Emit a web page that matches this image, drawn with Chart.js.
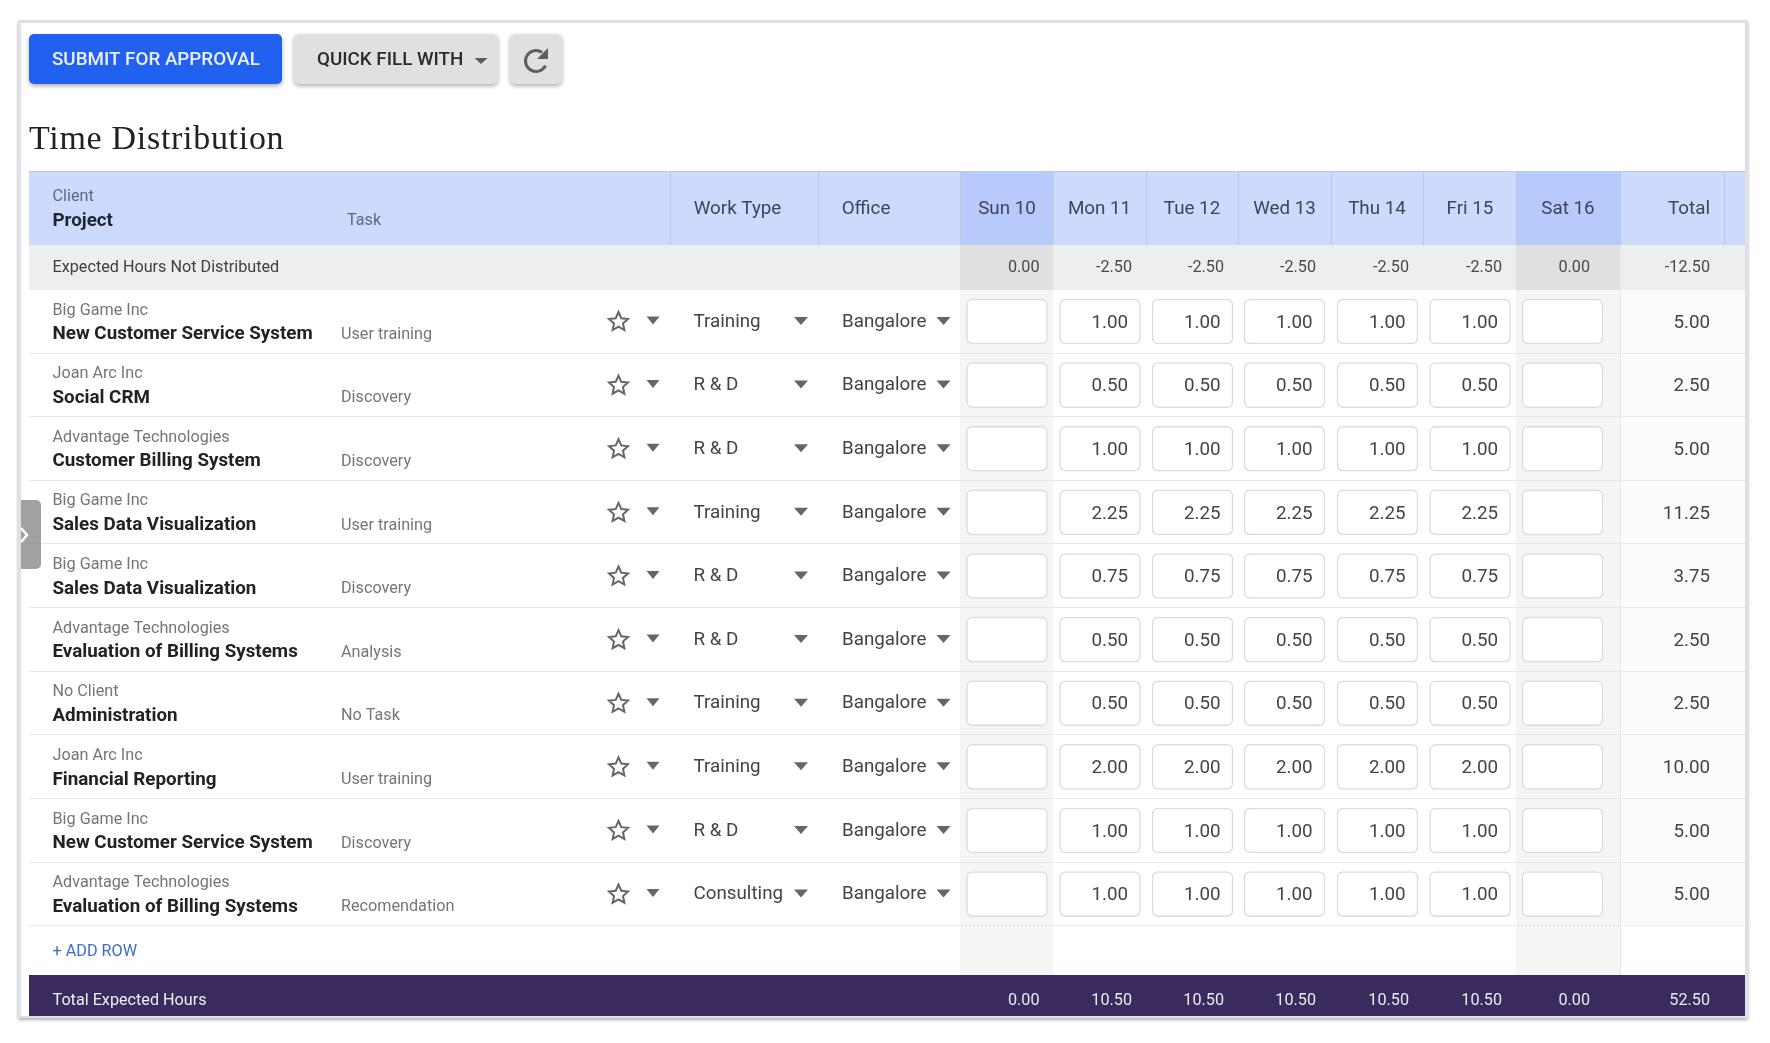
<!DOCTYPE html>
<html lang="en">
<head>
<meta charset="utf-8">
<title>Time Distribution</title>
<style>html,body{margin:0;padding:0;background:#fff}canvas{display:block;filter:blur(.45px)}</style>
<script src="https://cdn.jsdelivr.net/npm/chart.js@4"></script>
</head>
<body>
<canvas id="c" width="1770" height="1043"></canvas>
<script>
// ---------- DATA ----------
const titleText = 'Time Distribution';
const submitLabel = 'SUBMIT FOR APPROVAL';
const quickFillLabel = 'QUICK FILL WITH';
const addRowLabel = '+ ADD ROW';
const headerClient = 'Client';
const headerProject = 'Project';
const headerTask = 'Task';
const expectedLabel = 'Expected Hours Not Distributed';
const footerLabel = 'Total Expected Hours';
const headerColumns = ['Work Type', 'Office', 'Sun 10', 'Mon 11', 'Tue 12', 'Wed 13', 'Thu 14', 'Fri 15', 'Sat 16', 'Total'];
const days = ['Sun 10', 'Mon 11', 'Tue 12', 'Wed 13', 'Thu 14', 'Fri 15', 'Sat 16'];
const clients = ['Big Game Inc', 'Joan Arc Inc', 'Advantage Technologies', 'Big Game Inc', 'Big Game Inc', 'Advantage Technologies', 'No Client', 'Joan Arc Inc', 'Big Game Inc', 'Advantage Technologies'];
const projects = ['New Customer Service System', 'Social CRM', 'Customer Billing System', 'Sales Data Visualization', 'Sales Data Visualization', 'Evaluation of Billing Systems', 'Administration', 'Financial Reporting', 'New Customer Service System', 'Evaluation of Billing Systems'];
const tasks = ['User training', 'Discovery', 'Discovery', 'User training', 'Discovery', 'Analysis', 'No Task', 'User training', 'Discovery', 'Recomendation'];
const workTypes = ['Training', 'R & D', 'R & D', 'Training', 'R & D', 'R & D', 'Training', 'Training', 'R & D', 'Consulting'];
const offices = ['Bangalore', 'Bangalore', 'Bangalore', 'Bangalore', 'Bangalore', 'Bangalore', 'Bangalore', 'Bangalore', 'Bangalore', 'Bangalore'];
const sunHours = ['', '', '', '', '', '', '', '', '', ''];
const monHours = ['1.00', '0.50', '1.00', '2.25', '0.75', '0.50', '0.50', '2.00', '1.00', '1.00'];
const tueHours = ['1.00', '0.50', '1.00', '2.25', '0.75', '0.50', '0.50', '2.00', '1.00', '1.00'];
const wedHours = ['1.00', '0.50', '1.00', '2.25', '0.75', '0.50', '0.50', '2.00', '1.00', '1.00'];
const thuHours = ['1.00', '0.50', '1.00', '2.25', '0.75', '0.50', '0.50', '2.00', '1.00', '1.00'];
const friHours = ['1.00', '0.50', '1.00', '2.25', '0.75', '0.50', '0.50', '2.00', '1.00', '1.00'];
const satHours = ['', '', '', '', '', '', '', '', '', ''];
const rowTotals = ['5.00', '2.50', '5.00', '11.25', '3.75', '2.50', '2.50', '10.00', '5.00', '5.00'];
const expectedByDay = ['0.00', '-2.50', '-2.50', '-2.50', '-2.50', '-2.50', '0.00', '-12.50'];
const footerByDay = ['0.00', '10.50', '10.50', '10.50', '10.50', '10.50', '0.00', '52.50'];

// ---------- LAYOUT (pixels of the 1770x1043 page) ----------
const L = {
  tableLeft: 29, tableRight: 1745, headTop: 171, headBottom: 245, rowsTop: 290, rowH: 63.62, dotted: 925, footTop: 975, footBottom: 1016,
  headCenters: [737.5, 866, 1007, 1099.5, 1192, 1284.5, 1377, 1470, 1568, 1689],
  cellCenters: [1007, 1100, 1192.5, 1284.5, 1377.5, 1470, 1562.5],
  headLines: [670, 818, 960, 1053, 1146, 1238, 1331, 1423, 1516, 1620, 1724],
  sun: [960, 1053], sat: [1516, 1620],
  valueRights: [1039.5, 1132, 1224, 1316, 1409, 1502, 1590, 1710]
};
const FONT = 'Roboto, sans-serif';
const hoursByDay = [sunHours, monHours, tueHours, wedHours, thuHours, friHours, satHours];

// A category scale whose bands are not equally wide: a real table column grid.
class TableColumnScale extends Chart.CategoryScale {
  getPixelForValue(value) {
    const v = typeof value === 'number' ? value : this.parse(value);
    const c = this.options.centers;
    return c[Math.round(v)];
  }
  getPixelForTick(i) { return this.options.centers[this.ticks[i].value]; }
}
TableColumnScale.id = 'tableColumn';
TableColumnScale.defaults = Chart.CategoryScale.defaults;
Chart.register(TableColumnScale);

function rr(ctx, x, y, w, h, r) { ctx.beginPath(); ctx.roundRect(x, y, w, h, r); }
function txt(ctx, s, x, y, font, color, align) {
  ctx.font = font; ctx.fillStyle = color; ctx.textAlign = align || 'left'; ctx.textBaseline = 'middle';
  ctx.fillText(s, x, y);
}
function caret(ctx, x, y, w, h, color) {
  ctx.fillStyle = color; ctx.beginPath();
  ctx.moveTo(x - w / 2, y - h / 2); ctx.lineTo(x + w / 2, y - h / 2); ctx.lineTo(x, y + h / 2); ctx.closePath(); ctx.fill();
}
function star(ctx, cx, cy, R, color) {
  ctx.strokeStyle = color; ctx.lineWidth = 2; ctx.lineJoin = 'miter'; ctx.beginPath();
  for (let i = 0; i < 10; i++) {
    const r = i % 2 ? R * 0.47 : R, a = -Math.PI / 2 + i * Math.PI / 5;
    const x = cx + r * Math.cos(a), y = cy + r * Math.sin(a);
    if (i) ctx.lineTo(x, y); else ctx.moveTo(x, y);
  }
  ctx.closePath(); ctx.stroke();
}
function button(ctx, x, y, w, h, fill) {
  ctx.save();
  ctx.shadowColor = 'rgba(0,0,0,.32)'; ctx.shadowBlur = 4; ctx.shadowOffsetY = 2;
  ctx.fillStyle = fill; rr(ctx, x, y, w, h, 5); ctx.fill();
  ctx.restore();
}

const chromePlugin = {
  id: 'tableChrome',
  beforeDraw(chart) {
    const ctx = chart.ctx;
    ctx.save();
    // card
    ctx.save();
    ctx.shadowColor = 'rgba(0,0,0,.3)'; ctx.shadowBlur = 3; ctx.shadowOffsetY = 2;
    ctx.fillStyle = '#dfdfe8'; ctx.fillRect(18, 20, 1730, 998);
    ctx.restore();
    ctx.fillStyle = '#ffffff'; ctx.fillRect(21, 23, 1724, 993);

    // buttons
    button(ctx, 29, 34, 253, 50, '#2260f0');
    txt(ctx, submitLabel, 52, 60, '500 18.8px ' + FONT, '#e9f0ff');
    button(ctx, 294, 34, 204, 50, '#e0e0e0');
    txt(ctx, quickFillLabel, 317, 60, '500 18.8px ' + FONT, '#2b2b2b');
    caret(ctx, 481, 61, 13, 6, '#5c5c5c');
    button(ctx, 510, 34, 52, 50, '#e0e0e0');
    // refresh icon
    ctx.strokeStyle = '#5f5f5f'; ctx.lineWidth = 3; ctx.beginPath();
    ctx.arc(536, 61, 10.5, 0.45, Math.PI * 2 - 0.95, false); ctx.stroke();
    ctx.fillStyle = '#5f5f5f'; ctx.beginPath();
    ctx.moveTo(548, 48); ctx.lineTo(548, 59); ctx.lineTo(537, 59); ctx.closePath(); ctx.fill();

    // title
    ctx.save();
    ctx.letterSpacing = '0.7px';
    txt(ctx, titleText, 29, 140, '34px "Liberation Serif", serif', '#222222');
    ctx.restore();

    // header band
    ctx.fillStyle = '#cbdafd'; ctx.fillRect(L.tableLeft, L.headTop, L.tableRight - L.tableLeft, L.headBottom - L.headTop);
    ctx.fillStyle = '#b8cafb'; ctx.fillRect(L.sun[0], L.headTop, L.sun[1] - L.sun[0], L.headBottom - L.headTop);
    ctx.fillRect(L.sat[0], L.headTop, L.sat[1] - L.sat[0], L.headBottom - L.headTop);
    ctx.fillStyle = '#b9c9e8';
    ctx.fillRect(L.tableLeft, L.headTop, L.tableRight - L.tableLeft, 1);
    L.headLines.forEach(x => ctx.fillRect(x, L.headTop, 1, L.headBottom - L.headTop));
    txt(ctx, headerClient, 52.5, 197, '16.2px ' + FONT, '#5d6a80');
    txt(ctx, headerProject, 52.5, 221, '700 18.8px ' + FONT, '#1f2430');
    txt(ctx, headerTask, 347, 220.5, '16.2px ' + FONT, '#5d6a80');

    // expected row
    ctx.fillStyle = '#eeeeee'; ctx.fillRect(L.tableLeft, L.headBottom, L.tableRight - L.tableLeft, L.rowsTop - L.headBottom);
    ctx.fillStyle = '#e0e0e0';
    ctx.fillRect(L.sun[0], L.headBottom, L.sun[1] - L.sun[0], L.rowsTop - L.headBottom);
    ctx.fillRect(L.sat[0], L.headBottom, L.sat[1] - L.sat[0], L.rowsTop - L.headBottom);

    // weekend shading and total column
    ctx.fillStyle = '#f5f5f5';
    ctx.fillRect(L.sun[0], L.rowsTop, L.sun[1] - L.sun[0], L.footTop - L.rowsTop);
    ctx.fillRect(L.sat[0], L.rowsTop, L.sat[1] - L.sat[0], L.footTop - L.rowsTop);
    ctx.fillStyle = '#fbfbfb'; ctx.fillRect(L.sat[1], L.rowsTop, L.tableRight - L.sat[1], L.dotted - L.rowsTop);
    ctx.fillStyle = '#e6e6e6'; ctx.fillRect(L.sat[1], L.rowsTop, 1, L.footTop - L.rowsTop);

    // row rules
    ctx.fillStyle = '#e8e8e8';
    for (let i = 1; i < projects.length; i++) ctx.fillRect(L.tableLeft, Math.round(L.rowsTop + i * L.rowH) - 1, L.tableRight - L.tableLeft, 1);
    ctx.strokeStyle = '#dedede'; ctx.lineWidth = 1; ctx.setLineDash([2, 2]);
    ctx.beginPath(); ctx.moveTo(L.tableLeft, L.dotted + .5); ctx.lineTo(L.tableRight, L.dotted + .5); ctx.stroke(); ctx.setLineDash([]);

    // footer
    ctx.fillStyle = '#3a2a5e'; ctx.fillRect(L.tableLeft, L.footTop, L.tableRight - L.tableLeft, L.footBottom - L.footTop);
    ctx.restore();
  },
  afterDatasetsDraw(chart) {
    const ctx = chart.ctx, ys = chart.scales.y, xs = chart.scales.x;
    ctx.save();
    // expected row text
    txt(ctx, expectedLabel, 52.5, 268, '16.2px ' + FONT, '#3f3f3f');
    expectedByDay.forEach((v, i) => txt(ctx, v, L.valueRights[i], 268, '16.2px ' + FONT, '#4a4a4a', 'right'));
    // rows
    projects.forEach((p, r) => {
      const top = ys.getPixelForValue(r);
      txt(ctx, clients[r], 52.5, top + 20.5, '16.2px ' + FONT, '#757575');
      txt(ctx, p, 52.5, top + 44.5, '700 18.8px ' + FONT, '#222222');
      txt(ctx, tasks[r], 341, top + 44.7, '16.2px ' + FONT, '#757575');
      star(ctx, 618.5, top + 32, 10, '#666666');
      caret(ctx, 653, top + 30.5, 13, 8, '#666666');
      txt(ctx, workTypes[r], 693.5, top + 32, '18.8px ' + FONT, '#444444');
      caret(ctx, 801, top + 31, 14, 8, '#666666');
      txt(ctx, offices[r], 842, top + 32, '18.8px ' + FONT, '#444444');
      caret(ctx, 943.5, top + 31, 14, 8, '#666666');
      hoursByDay.forEach((col, d) => {
        if (col[r]) txt(ctx, col[r], xs.getPixelForValue(d) + 28, top + 33, '18.8px ' + FONT, '#444444', 'right');
      });
      txt(ctx, rowTotals[r], L.valueRights[7], top + 33, '18.8px ' + FONT, '#444444', 'right');
    });
    // add row + footer
    txt(ctx, addRowLabel, 52.5, 951.5, '16.2px ' + FONT, '#3e6cc8');
    txt(ctx, footerLabel, 52.5, 1001, '16.2px ' + FONT, '#f0eef6');
    footerByDay.forEach((v, i) => txt(ctx, v, L.valueRights[i], 1001, '16.2px ' + FONT, '#ece9f3', 'right'));
    // collapsed side tab
    ctx.fillStyle = 'rgba(125,125,125,.72)';
    rr(ctx, 21, 500, 20, 69, [0, 5, 5, 0]); ctx.fill();
    ctx.strokeStyle = '#ffffff'; ctx.lineWidth = 2.5; ctx.beginPath();
    ctx.moveTo(21, 528); ctx.lineTo(27, 535); ctx.lineTo(21, 542); ctx.stroke();
    ctx.restore();
  }
};

// Each time-entry box is one floating bar: x = day, y = its row band.
const boxInset = [9 / L.rowH, 54 / L.rowH];
const boxes = [];
days.forEach(d => projects.forEach((p, r) => boxes.push({ x: d, y: [r + boxInset[0], r + boxInset[1]] })));

new Chart(document.getElementById('c'), {
  type: 'bar',
  data: {
    labels: days,
    datasets: [{
      label: 'Hours',
      data: boxes,
      xAxisID: 'x', yAxisID: 'y',
      backgroundColor: '#ffffff',
      borderColor: '#dcdcdc',
      borderWidth: 1.5,
      borderSkipped: false,
      borderRadius: 6,
      barThickness: 81
    }]
  },
  options: {
    responsive: false,
    animation: false,
    devicePixelRatio: 1,
    events: [],
    layout: { padding: { left: L.tableLeft, right: 1770 - L.tableRight, top: L.headTop, bottom: 1043 - L.footTop } },
    plugins: { legend: { display: false }, tooltip: { enabled: false }, title: { display: false } },
    scales: {
      x: {
        type: 'tableColumn', labels: days, centers: L.cellCenters, display: false, offset: true
      },
      head: {
        type: 'tableColumn', labels: headerColumns, centers: L.headCenters, position: 'top', axis: 'x',
        afterFit(s) { s.height = L.headBottom - L.headTop; },
        grid: { display: false, drawTicks: false }, border: { display: false },
        ticks: { autoSkip: false, maxRotation: 0, minRotation: 0, padding: 24, color: '#3a465f', font: { family: 'Roboto', size: 18.8 } }
      },
      y: {
        type: 'linear', display: false, reverse: true,
        min: -(L.rowsTop - L.headBottom) / L.rowH,
        max: (L.footTop - L.rowsTop) / L.rowH
      }
    }
  },
  plugins: [chromePlugin]
});
</script>
</body>
</html>
